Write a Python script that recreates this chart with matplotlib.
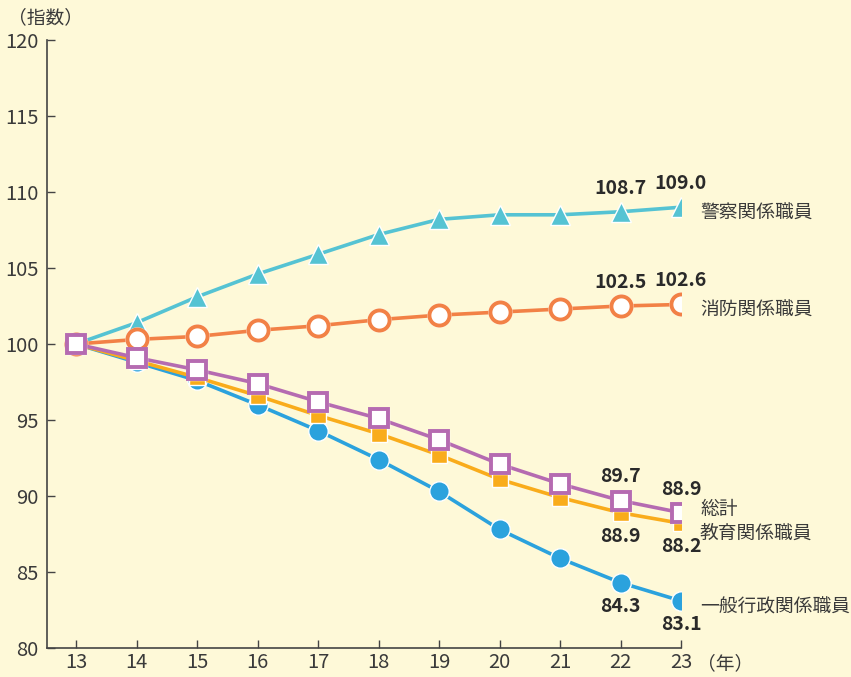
import matplotlib.pyplot as plt

plt.rcParams["font.family"] = ["Noto Sans CJK JP", "DejaVu Sans"]

years = [13, 14, 15, 16, 17, 18, 19, 20, 21, 22, 23]
police = [100.0, 101.4, 103.1, 104.6, 105.9, 107.2, 108.2, 108.5, 108.5, 108.7, 109.0]
fire = [100.0, 100.3, 100.5, 100.9, 101.2, 101.6, 101.9, 102.1, 102.3, 102.5, 102.6]
total = [100.0, 99.1, 98.3, 97.4, 96.2, 95.1, 93.7, 92.1, 90.8, 89.7, 88.9]
education = [100.0, 98.9, 97.8, 96.6, 95.3, 94.1, 92.7, 91.1, 89.9, 88.9, 88.2]
general = [100.0, 98.8, 97.6, 96.0, 94.3, 92.4, 90.3, 87.8, 85.9, 84.3, 83.1]

BG = "#FEF9D8"
TXT = "#3a3a3a"
C_POLICE = "#55C3D3"
C_FIRE = "#F28146"
C_TOTAL = "#B56BB1"
C_EDU = "#F9AC1B"
C_GEN = "#2BA2DD"

fig = plt.figure(figsize=(8.51, 6.77), dpi=100, facecolor=BG)
ax = fig.add_axes([47 / 851, 29 / 677, 634 / 851, 608 / 677], facecolor=BG)

ax.plot(years, general, color=C_GEN, lw=2.6, marker="o", ms=14,
        mfc=C_GEN, mec="white", mew=1.0, zorder=2)
ax.plot(years, education, color=C_EDU, lw=2.6, marker="s", ms=12,
        mfc=C_EDU, mec="white", mew=1.0, zorder=3)
ax.plot(years, police, color=C_POLICE, lw=2.6, marker="^", ms=15,
        mfc=C_POLICE, mec="white", mew=1.0, zorder=4)
ax.plot(years, fire, color=C_FIRE, lw=2.6, zorder=5)
ax.plot(years, fire, ls="none", marker="o", ms=16.5, mfc="white", mec="white", zorder=5)
ax.plot(years, fire, ls="none", marker="o", ms=14.5, mfc="white", mec=C_FIRE, mew=2.8, zorder=5)
ax.plot(years, total, color=C_TOTAL, lw=2.6, zorder=6)
ax.plot(years, total, ls="none", marker="s", ms=15, mfc="white", mec="white", zorder=6)
ax.plot(years, total, ls="none", marker="s", ms=13, mfc="white", mec=C_TOTAL, mew=2.8, zorder=6)

ax.set_xlim(12.52, 23)
ax.set_ylim(80, 120)
ax.set_xticks(years)
ax.set_yticks(range(80, 121, 5))
ax.tick_params(direction="in", length=6, width=1, color="#444444",
               labelsize=14.5, labelcolor=TXT, pad=6)
ax.tick_params(axis="x", pad=3)
for s in ["top", "right"]:
    ax.spines[s].set_visible(False)
for s in ["left", "bottom"]:
    ax.spines[s].set_color("#444444")
    ax.spines[s].set_linewidth(1.2)

fig.text(8 / 851, 1 - 18 / 677, "（指数）", fontsize=13.5, color=TXT, va="center", ha="left")
fig.text(697 / 851, 1 - 664 / 677, "（年）", fontsize=13.5, color=TXT, va="center", ha="left")

lab = dict(fontsize=14, fontweight="bold", color="#2a2a2a", ha="center", va="center",
           textcoords="offset points")
up, dn = 17, -17
ax.annotate(f"{police[-2]:.1f}", (22, police[-2]), xytext=(0, up), **lab)
ax.annotate(f"{police[-1]:.1f}", (23, police[-1]), xytext=(0, up), **lab)
ax.annotate(f"{fire[-2]:.1f}", (22, fire[-2]), xytext=(0, up), **lab)
ax.annotate(f"{fire[-1]:.1f}", (23, fire[-1]), xytext=(0, up), **lab)
ax.annotate(f"{total[-2]:.1f}", (22, total[-2]), xytext=(0, up), **lab)
ax.annotate(f"{total[-1]:.1f}", (23, total[-1]), xytext=(0, up), **lab)
ax.annotate(f"{education[-2]:.1f}", (22, education[-2]), xytext=(0, dn), **lab)
ax.annotate(f"{education[-1]:.1f}", (23, education[-1]), xytext=(0, dn), **lab)
ax.annotate(f"{general[-2]:.1f}", (22, general[-2]), xytext=(0, dn), **lab)
ax.annotate(f"{general[-1]:.1f}", (23, general[-1]), xytext=(0, dn), **lab)

names = [("警察関係職員", 213), ("消防関係職員", 310), ("総計", 509),
         ("教育関係職員", 533), ("一般行政関係職員", 607)]
for name, py in names:
    fig.text(700 / 851, 1 - py / 677, name, fontsize=13.5, color=TXT, va="center", ha="left")

fig.savefig("out.png", dpi=100, facecolor=BG)
